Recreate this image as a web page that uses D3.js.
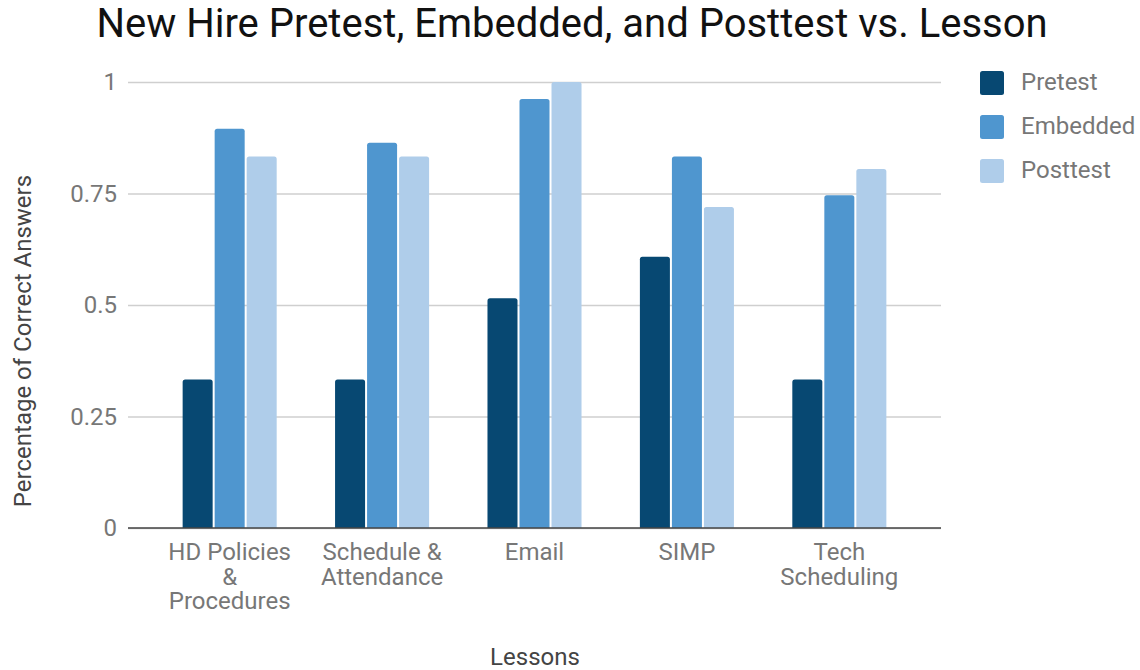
<!DOCTYPE html>
<html>
<head>
<meta charset="utf-8">
<script src="https://cdn.jsdelivr.net/npm/d3@7"></script>
<style>
  html, body { margin: 0; padding: 0; background: #fff; }
  svg { display: block; font-family: Roboto, "Noto Sans", sans-serif; }
</style>
</head>
<body>
<svg id="chart" width="1140" height="670"></svg>
<script>
// Lessons along the x axis (each label split into its display lines)
const lessons = ["HD Policies & Procedures", "Schedule & Attendance", "Email", "SIMP", "Tech Scheduling"];
const lessonLines = [
  ["HD Policies", "&", "Procedures"],
  ["Schedule &", "Attendance"],
  ["Email"],
  ["SIMP"],
  ["Tech", "Scheduling"]
];
const seriesNames = ["Pretest", "Embedded", "Posttest"];
const seriesColors = ["#074872", "#4f96cf", "#afcdea"];

// Share of correct answers per lesson
const pretest  = [0.333, 0.333, 0.515, 0.608, 0.333];
const embedded = [0.895, 0.864, 0.962, 0.833, 0.746];
const posttest = [0.833, 0.833, 1.0,   0.720, 0.805];

const yTicks = [0, 0.25, 0.5, 0.75, 1];
const yTickLabels = ["0", "0.25", "0.5", "0.75", "1"];

const title = "New Hire Pretest, Embedded, and Posttest vs. Lesson";
const xTitle = "Lessons";
const yTitle = "Percentage of Correct Answers";

const seriesValues = [pretest, embedded, posttest];
const rows = lessons.map((l, i) => ({
  lesson: l,
  values: seriesNames.map((s, k) => ({ series: s, value: seriesValues[k][i], k }))
}));

const svg = d3.select("#chart");
const plot = { left: 128, right: 941, top: 82, bottom: 528 };

const x0 = d3.scaleBand()
  .domain(lessons)
  .range([plot.left, plot.right])
  .paddingInner(0)
  .paddingOuter(0.167);

const groupW = x0.bandwidth() * 0.617;
const x1 = d3.scaleBand()
  .domain(seriesNames)
  .range([-groupW / 2, groupW / 2])
  .paddingInner(0.0625);

const y = d3.scaleLinear().domain([0, 1]).range([plot.bottom, plot.top]);

// Title
svg.append("text")
  .attr("x", 572).attr("y", 37)
  .attr("text-anchor", "middle")
  .attr("font-size", 40)
  .attr("fill", "#111")
  .text(title);

// Horizontal gridlines and y tick labels
const yAxis = d3.axisLeft(y)
  .tickValues(yTicks)
  .tickFormat((d, i) => yTickLabels[i])
  .tickSize(-(plot.right - plot.left))
  .tickPadding(11);

const gy = svg.append("g")
  .attr("transform", `translate(${plot.left},0)`)
  .call(yAxis);
gy.select(".domain").remove();
gy.selectAll(".tick line").attr("stroke", "#cfcfcf").attr("stroke-width", 1.3);
gy.selectAll(".tick text")
  .attr("font-size", 24)
  .attr("fill", "#777")
  .attr("font-family", "Roboto, sans-serif");

// Bars with slightly rounded top corners
function barPath(xp, w, yTop, yBase, r) {
  const rr = Math.min(r, (yBase - yTop) / 2, w / 2);
  return `M${xp},${yBase}V${yTop + rr}Q${xp},${yTop} ${xp + rr},${yTop}` +
         `H${xp + w - rr}Q${xp + w},${yTop} ${xp + w},${yTop + rr}V${yBase}Z`;
}

const groups = svg.append("g").selectAll("g")
  .data(rows)
  .join("g")
  .attr("transform", d => `translate(${x0(d.lesson) + x0.bandwidth() / 2},0)`);

groups.selectAll("path")
  .data(d => d.values)
  .join("path")
  .attr("d", d => barPath(x1(d.series), x1.bandwidth(), y(d.value), y(0), 2.5))
  .attr("fill", d => seriesColors[d.k]);

// Baseline
svg.append("line")
  .attr("x1", plot.left).attr("x2", plot.right)
  .attr("y1", y(0)).attr("y2", y(0))
  .attr("stroke", "#444").attr("stroke-width", 1.6);

// Category labels
const xl = svg.append("g");
lessons.forEach((l, i) => {
  const t = xl.append("text")
    .attr("x", x0(l) + x0.bandwidth() / 2)
    .attr("y", 560)
    .attr("text-anchor", "middle")
    .attr("font-size", 24)
    .attr("fill", "#777");
  lessonLines[i].forEach((line, j) => {
    t.append("tspan")
      .attr("x", x0(l) + x0.bandwidth() / 2)
      .attr("dy", j === 0 ? 0 : 24.5)
      .text(line);
  });
});

// Axis titles
svg.append("text")
  .attr("x", 535).attr("y", 665)
  .attr("text-anchor", "middle")
  .attr("font-size", 24)
  .attr("fill", "#444")
  .text(xTitle);

svg.append("text")
  .attr("transform", "translate(31,341) rotate(-90)")
  .attr("text-anchor", "middle")
  .attr("font-size", 24)
  .attr("fill", "#444")
  .text(yTitle);

// Legend
const legend = svg.append("g").attr("transform", "translate(980,71)");
const items = legend.selectAll("g")
  .data(seriesNames)
  .join("g")
  .attr("transform", (d, i) => `translate(0,${i * 44})`);
items.append("rect")
  .attr("width", 24).attr("height", 24)
  .attr("rx", 2.5)
  .attr("fill", (d, i) => seriesColors[i]);
items.append("text")
  .attr("x", 41).attr("y", 18.5)
  .attr("font-size", 24)
  .attr("fill", "#777")
  .text(d => d);
</script>
</body>
</html>
